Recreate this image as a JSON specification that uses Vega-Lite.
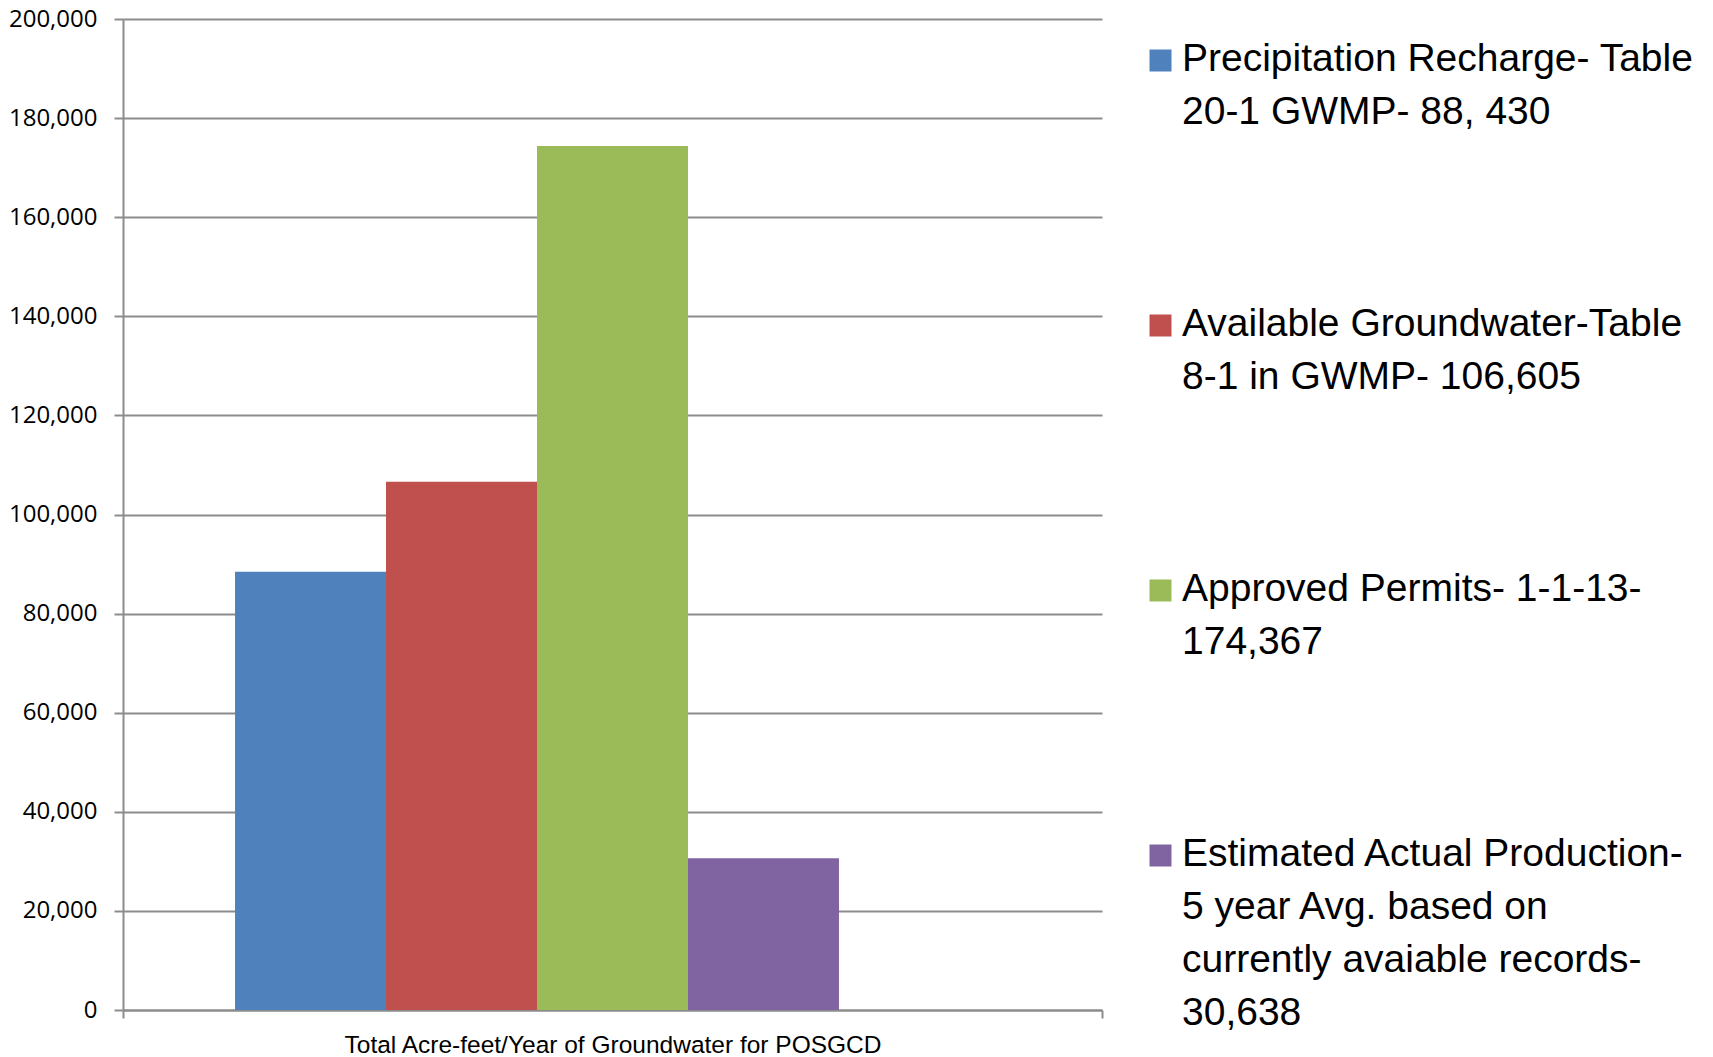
{
  "$schema": "https://vega.github.io/schema/vega-lite/v6.json",
  "width": 979,
  "height": 991,
  "autosize": {"type": "none"},
  "padding": {"left": 123, "top": 19, "right": 611, "bottom": 47},
  "background": "white",
  "config": {
    "view": {"stroke": null},
    "style": {"guide-label": {"lineHeight": 53}}
  },
  "data": {
    "values": [
      {"category": "Total Acre-feet/Year of Groundwater for POSGCD", "series": "Precipitation Recharge- Table 20-1 GWMP- 88, 430", "value": 88430},
      {"category": "Total Acre-feet/Year of Groundwater for POSGCD", "series": "Available Groundwater-Table 8-1 in GWMP- 106,605", "value": 106605},
      {"category": "Total Acre-feet/Year of Groundwater for POSGCD", "series": "Approved Permits- 1-1-13- 174,367", "value": 174367},
      {"category": "Total Acre-feet/Year of Groundwater for POSGCD", "series": "Estimated Actual Production- 5 year Avg. based on currently avaiable records- 30,638", "value": 30638}
    ]
  },
  "mark": {"type": "bar"},
  "encoding": {
    "x": {
      "field": "category",
      "type": "nominal",
      "scale": {"paddingInner": 0, "paddingOuter": 0},
      "axis": {
        "title": null,
        "labelAngle": 0,
        "labelFont": "Liberation Sans",
        "labelFontSize": 24.5,
        "labelLimit": 0,
        "labelColor": "#000000",
        "labelPadding": 15,
        "tickBand": "extent",
        "tickColor": "#8c8c8c",
        "tickWidth": 2,
        "tickSize": 8,
        "domainColor": "#8c8c8c",
        "domainWidth": 2
      }
    },
    "xOffset": {
      "field": "series",
      "type": "nominal",
      "scale": {
        "domain": [
          "Precipitation Recharge- Table 20-1 GWMP- 88, 430",
          "Available Groundwater-Table 8-1 in GWMP- 106,605",
          "Approved Permits- 1-1-13- 174,367",
          "Estimated Actual Production- 5 year Avg. based on currently avaiable records- 30,638",
          " "
        ],
        "paddingInner": 0,
        "paddingOuter": 0.742
      }
    },
    "y": {
      "field": "value",
      "type": "quantitative",
      "scale": {"domain": [0, 200000], "nice": false},
      "axis": {
        "title": null,
        "values": [0, 20000, 40000, 60000, 80000, 100000, 120000, 140000, 160000, 180000, 200000],
        "format": ",.0f",
        "grid": true,
        "gridColor": "#8c8c8c",
        "gridWidth": 2,
        "domainColor": "#8c8c8c",
        "domainWidth": 2,
        "tickColor": "#8c8c8c",
        "tickWidth": 2,
        "tickSize": 9,
        "labelPadding": 17,
        "labelFont": "Open Sans",
        "labelFontSize": 24,
        "labelColor": "#000000"
      }
    },
    "color": {
      "field": "series",
      "type": "nominal",
      "scale": {
        "domain": [
          "Precipitation Recharge- Table 20-1 GWMP- 88, 430",
          "Available Groundwater-Table 8-1 in GWMP- 106,605",
          "Approved Permits- 1-1-13- 174,367",
          "Estimated Actual Production- 5 year Avg. based on currently avaiable records- 30,638"
        ],
        "range": ["#4F81BD", "#C0504D", "#9BBB59", "#8064A2"]
      },
      "legend": {
        "orient": "none",
        "legendX": 1018,
        "legendY": 22,
        "title": null,
        "symbolType": "square",
        "symbolSize": 484,
        "symbolStrokeWidth": 0,
        "symbolOpacity": 1,
        "labelFont": "Liberation Sans",
        "labelFontSize": 39,
        "labelColor": "#000000",
        "labelLimit": 0,
        "labelOffset": 2,
        "labelBaseline": "alphabetic",
        "rowPadding": 172,
        "encode": {"labels": {"update": {"dy": {"value": 10}}}},
        "labelExpr": "datum.label == 'Precipitation Recharge- Table 20-1 GWMP- 88, 430' ? ['Precipitation Recharge- Table', '20-1 GWMP- 88, 430'] : datum.label == 'Available Groundwater-Table 8-1 in GWMP- 106,605' ? ['Available Groundwater-Table', '8-1 in GWMP- 106,605'] : datum.label == 'Approved Permits- 1-1-13- 174,367' ? ['Approved Permits- 1-1-13-', '174,367'] : ['Estimated Actual Production-', '5 year Avg. based on', 'currently avaiable records-', '30,638']"
      }
    }
  }
}
